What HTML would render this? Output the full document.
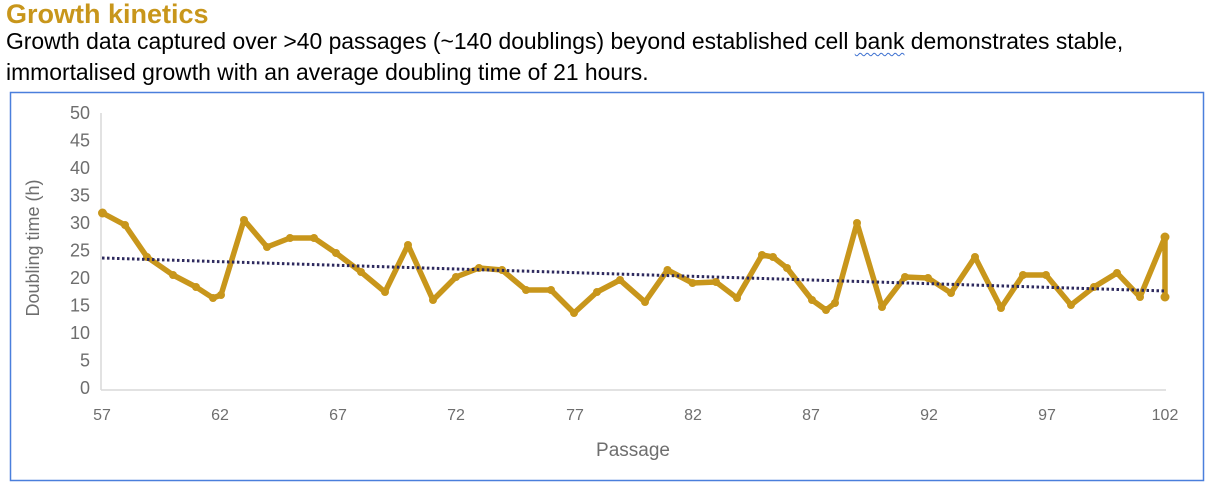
<!DOCTYPE html>
<html><head><meta charset="utf-8"><style>
html,body{margin:0;padding:0;background:#fff;width:1214px;height:491px;overflow:hidden}
body{font-family:"Liberation Sans",Arial,sans-serif;position:relative}
.t{position:absolute;left:6px;top:-1px;font-size:27px;font-weight:bold;color:#c8961b}
.s{position:absolute;left:6px;top:26px;font-size:22.9px;line-height:31px;color:#000;width:1210px;white-space:nowrap}
.w{text-decoration:underline wavy #3b6fd0 1px;text-underline-offset:3px}
</style></head><body>
<div class="t">Growth kinetics</div>
<div class="s">Growth data captured over &gt;40 passages (~140 doublings) beyond established cell <span class="w">bank</span> demonstrates stable,<br>immortalised growth with an average doubling time of 21 hours.</div>
<svg width="1214" height="491" style="position:absolute;left:0;top:0" xmlns="http://www.w3.org/2000/svg">
<rect x="10.5" y="92.5" width="1193" height="388" fill="none" stroke="#4a7fdc" stroke-width="1.5"/>
<line x1="101" y1="113" x2="101" y2="390" stroke="#d9d9d9" stroke-width="1.5"/>
<line x1="101" y1="390" x2="1166" y2="390" stroke="#d9d9d9" stroke-width="1.5"/>
<g font-size="18" fill="#6e6e6e" text-anchor="end">
<text x="90" y="119">50</text><text x="90" y="146.5">45</text><text x="90" y="174">40</text><text x="90" y="201.5">35</text><text x="90" y="229">30</text><text x="90" y="256.5">25</text><text x="90" y="284">20</text><text x="90" y="311.5">15</text><text x="90" y="339">10</text><text x="90" y="366.5">5</text><text x="90" y="394">0</text>
</g>
<g font-size="16" fill="#6e6e6e" text-anchor="middle">
<text x="102" y="420">57</text><text x="220" y="420">62</text><text x="338" y="420">67</text><text x="456" y="420">72</text><text x="575" y="420">77</text><text x="693" y="420">82</text><text x="811" y="420">87</text><text x="929" y="420">92</text><text x="1047" y="420">97</text><text x="1165" y="420">102</text>
</g>
<text x="633" y="456" font-size="19" fill="#6e6e6e" text-anchor="middle">Passage</text>
<text transform="translate(39,248) rotate(-90)" font-size="18" fill="#6e6e6e" text-anchor="middle">Doubling time (h)</text>
<polyline fill="none" stroke="#c8961b" stroke-width="5.5" stroke-linejoin="round" stroke-linecap="round" points="102.5,213 125,225 147,257 173,275 196,287 213,298 221,295 244,220 267,247 290,238 314,238 336,253 361,272 385,292 408,245 433,300 456,277 479,268 502,270 526,290 551,290 574,313 597,292 620,280 645,302 667.5,270 692.5,283 716,282 737,298 762,255 773,257 787,268 812,300 826,310 835,303 857,223 882,307 905,277 928,278 951,293 975,257 1001,308 1023,275 1046,275 1071,305 1094,287 1117,273 1140,297 1165,237 1165,297"/>
<g fill="#c8961b">
<circle cx="102.5" cy="213" r="4.5"/><circle cx="125" cy="225" r="4"/><circle cx="147" cy="257" r="4"/><circle cx="173" cy="275" r="4"/><circle cx="196" cy="287" r="4"/><circle cx="213" cy="298" r="4"/><circle cx="221" cy="295" r="4"/><circle cx="244" cy="220" r="4"/><circle cx="267" cy="247" r="4"/><circle cx="290" cy="238" r="4"/><circle cx="314" cy="238" r="4"/><circle cx="336" cy="253" r="4"/><circle cx="361" cy="272" r="4"/><circle cx="385" cy="292" r="4"/><circle cx="408" cy="245" r="4"/><circle cx="433" cy="300" r="4"/><circle cx="456" cy="277" r="4"/><circle cx="479" cy="268" r="4"/><circle cx="502" cy="270" r="4"/><circle cx="526" cy="290" r="4"/><circle cx="551" cy="290" r="4"/><circle cx="574" cy="313" r="4"/><circle cx="597" cy="292" r="4"/><circle cx="620" cy="280" r="4"/><circle cx="645" cy="302" r="4"/><circle cx="667.5" cy="270" r="4"/><circle cx="692.5" cy="283" r="4"/><circle cx="716" cy="282" r="4"/><circle cx="737" cy="298" r="4"/><circle cx="762" cy="255" r="4"/><circle cx="773" cy="257" r="4"/><circle cx="787" cy="268" r="4"/><circle cx="812" cy="300" r="4"/><circle cx="826" cy="310" r="4"/><circle cx="835" cy="303" r="4"/><circle cx="857" cy="223" r="4"/><circle cx="882" cy="307" r="4"/><circle cx="905" cy="277" r="4"/><circle cx="928" cy="278" r="4"/><circle cx="951" cy="293" r="4"/><circle cx="975" cy="257" r="4"/><circle cx="1001" cy="308" r="4"/><circle cx="1023" cy="275" r="4"/><circle cx="1046" cy="275" r="4"/><circle cx="1071" cy="305" r="4"/><circle cx="1094" cy="287" r="4"/><circle cx="1117" cy="273" r="4"/><circle cx="1140" cy="297" r="4"/><circle cx="1165" cy="237" r="4.5"/><circle cx="1165" cy="297" r="4.5"/>
</g>
<line x1="102" y1="258" x2="1166" y2="291" stroke="#2e2a5e" stroke-width="3" stroke-dasharray="2.5,2.5"/>
</svg>
</body></html>
